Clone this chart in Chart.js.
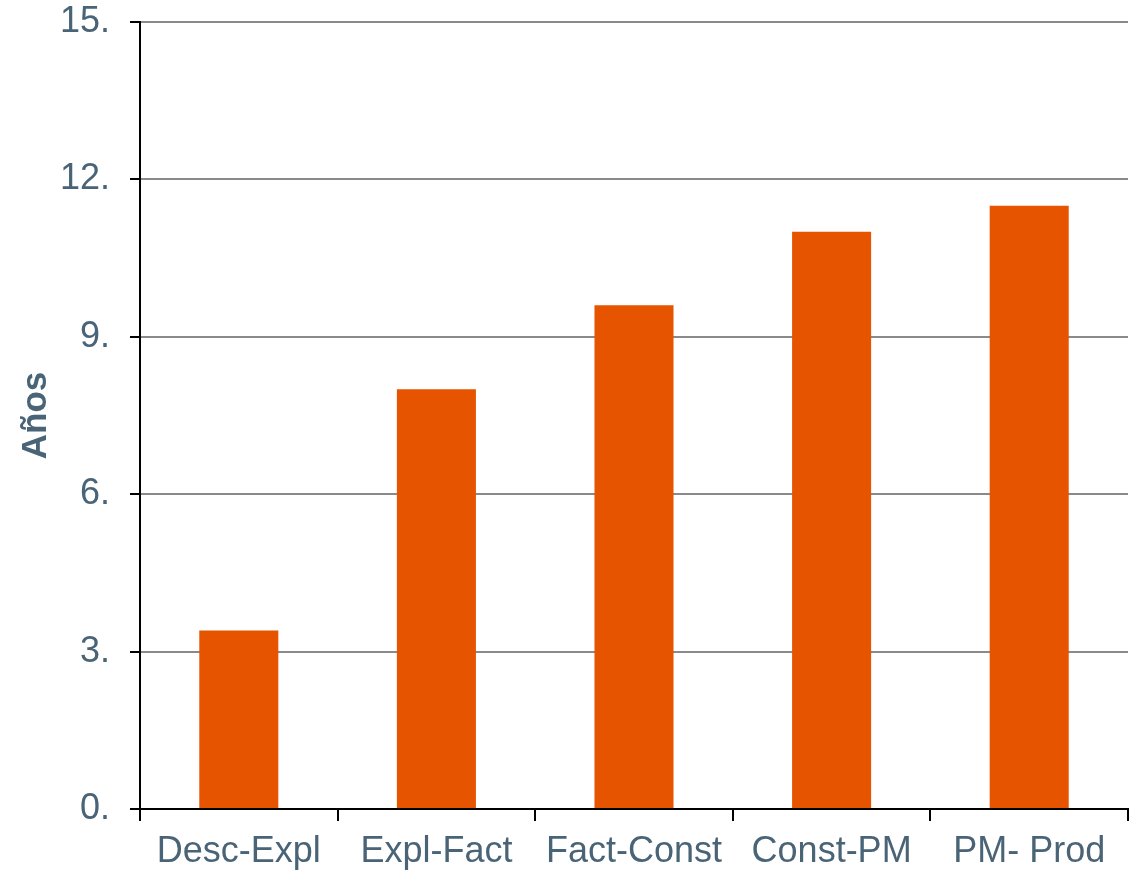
<!DOCTYPE html>
<html>
<head>
<meta charset="utf-8">
<script src="https://cdn.jsdelivr.net/npm/chart.js@4/dist/chart.umd.min.js"></script>
<style>
  html, body { margin: 0; padding: 0; background: #ffffff; }
  #wrap { width: 1148px; height: 876px; position: relative; }
</style>
</head>
<body>
<div id="wrap"><canvas id="chart"></canvas></div>
<script>
// Stage transitions and the average years spent in each
const categories = ['Desc-Expl', 'Expl-Fact', 'Fact-Const', 'Const-PM', 'PM- Prod'];
const years = [3.4, 8.0, 9.6, 11.0, 11.5];
const yTicks = [0, 3, 6, 9, 12, 15];
const yTitle = 'Años';

const textColor = '#4a6477';
const barColor = '#e65400';

new Chart(document.getElementById('chart'), {
  type: 'bar',
  data: {
    labels: categories,
    datasets: [{
      data: years,
      backgroundColor: barColor,
      borderWidth: 0,
      barPercentage: 0.4,
      categoryPercentage: 1.0
    }]
  },
  options: {
    responsive: true,
    maintainAspectRatio: false,
    animation: false,
    layout: { padding: { top: 22, right: 20, bottom: 0, left: 0 } },
    plugins: { legend: { display: false }, tooltip: { enabled: false } },
    scales: {
      x: {
        offset: true,
        grid: {
          display: true,
          drawOnChartArea: false,
          offset: true,
          tickLength: 12,
          tickColor: '#000000',
          lineWidth: 2
        },
        border: { display: true, color: '#000000', width: 2 },
        ticks: {
          color: textColor,
          padding: 9,
          maxRotation: 0,
          font: { family: 'Liberation Sans, Arial, sans-serif', size: 36 }
        },
        afterFit(scale) { scale.height = 67; }
      },
      y: {
        min: 0,
        max: 15,
        afterBuildTicks(scale) { scale.ticks = yTicks.map(v => ({ value: v })); },
        grid: {
          color: '#8a8a8a',
          lineWidth: 2,
          tickColor: '#000000',
          tickLength: 10
        },
        border: { display: true, color: '#000000', width: 2 },
        ticks: {
          color: textColor,
          padding: 20,
          font: { family: 'Liberation Sans, Arial, sans-serif', size: 36 },
          callback: v => v + '.'
        },
        title: {
          display: true,
          text: yTitle,
          color: textColor,
          padding: { top: 15, bottom: 0 },
          font: { family: 'Liberation Sans, Arial, sans-serif', size: 35, weight: 'bold' }
        },
        afterFit(scale) {
          scale.width = 140;
          scale.paddingTop = 0;
          scale.paddingBottom = 0;
        }
      }
    }
  }
});
</script>
</body>
</html>
